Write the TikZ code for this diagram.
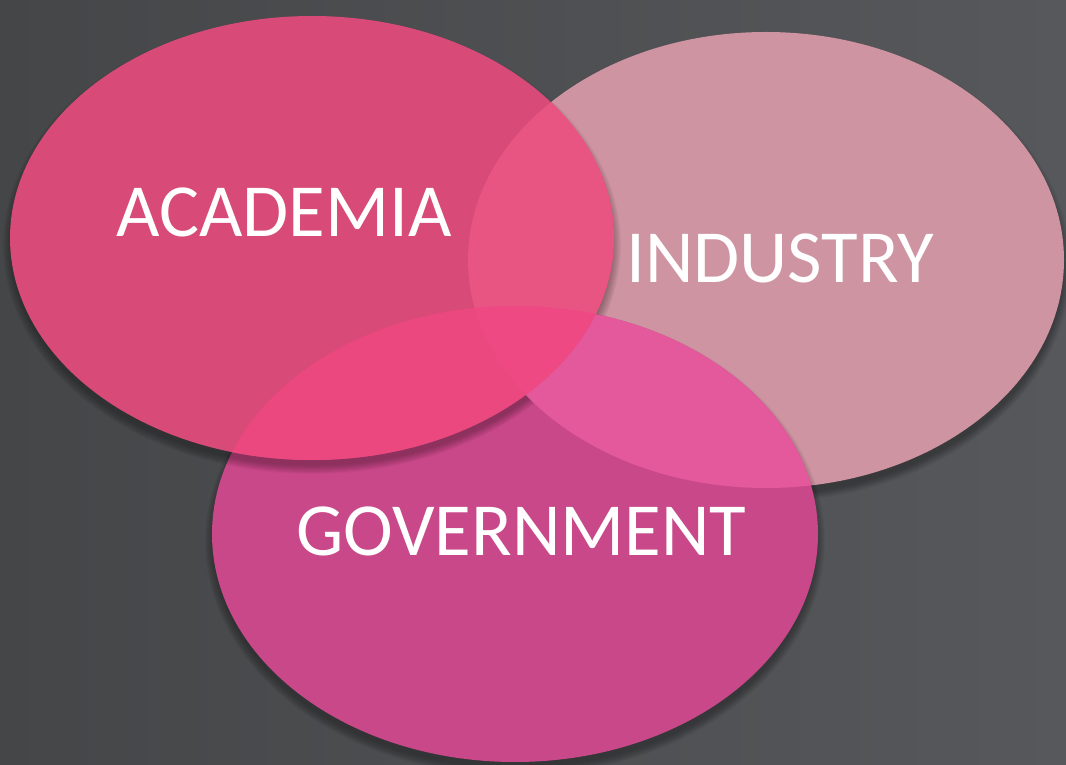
\documentclass[tikz,border=0pt]{standalone}
\usepackage{fontspec}
\setmainfont{Carlito}
\definecolor{bgL}{HTML}{454648}
\definecolor{bgR}{HTML}{57585B}
\definecolor{acad}{HTML}{D84A77}
\definecolor{indu}{HTML}{CE94A1}
\definecolor{gove}{HTML}{C94889}
\definecolor{ai}{HTML}{E85582}
\definecolor{ag}{HTML}{EB4880}
\definecolor{ig}{HTML}{E3599B}
\definecolor{aig}{HTML}{EE4982}
\newcommand{\acadpath}{(312,526) ellipse [x radius=302pt, y radius=222pt]}
\newcommand{\indupath}{(766,504) ellipse [x radius=298pt, y radius=228pt]}
\newcommand{\govepath}{(515,230) ellipse [x radius=303pt, y radius=228pt]}
\tikzset{
  lbl/.style={text=white, inner sep=0pt, anchor=base west, font=\fontsize{75}{90}\selectfont},
  shd/.style={black, opacity=0.03},
}
\begin{document}
\begin{tikzpicture}[x=1pt,y=1pt]
\useasboundingbox (0,0) rectangle (1066,764);
\shade[left color=bgL, right color=bgR] (0,0) rectangle (1066,764);
% industry
\foreach \i in {1,...,10} {
  \fill[shd] (766,497) ellipse [x radius=296pt+\i*0.9pt, y radius=226pt+\i*0.9pt];
}
\fill[indu] \indupath;
% government
\foreach \i in {1,...,10} {
  \fill[shd] (515,223) ellipse [x radius=301pt+\i*0.9pt, y radius=226pt+\i*0.9pt];
}
\fill[gove] \govepath;
% academia
\foreach \i in {1,...,10} {
  \fill[shd] (312,519) ellipse [x radius=300pt+\i*0.9pt, y radius=220pt+\i*0.9pt];
}
\fill[acad] \acadpath;
% intersections
\begin{scope}
  \clip \acadpath;
  \fill[ai] \indupath;
\end{scope}
\begin{scope}
  \clip \indupath;
  \fill[ig] \govepath;
\end{scope}
\begin{scope}
  \clip \acadpath;
  \fill[ag] \govepath;
\end{scope}
\begin{scope}
  \clip \acadpath;
  \clip \indupath;
  \fill[aig] \govepath;
\end{scope}
\node[lbl] (tacad) at (116,527) {ACADEMIA};
\node[lbl] (tindu) at (626,481) {INDUSTRY};
\node[lbl] (tgove) at (296,208) {GOVERNMENT};
\end{tikzpicture}
\end{document}
